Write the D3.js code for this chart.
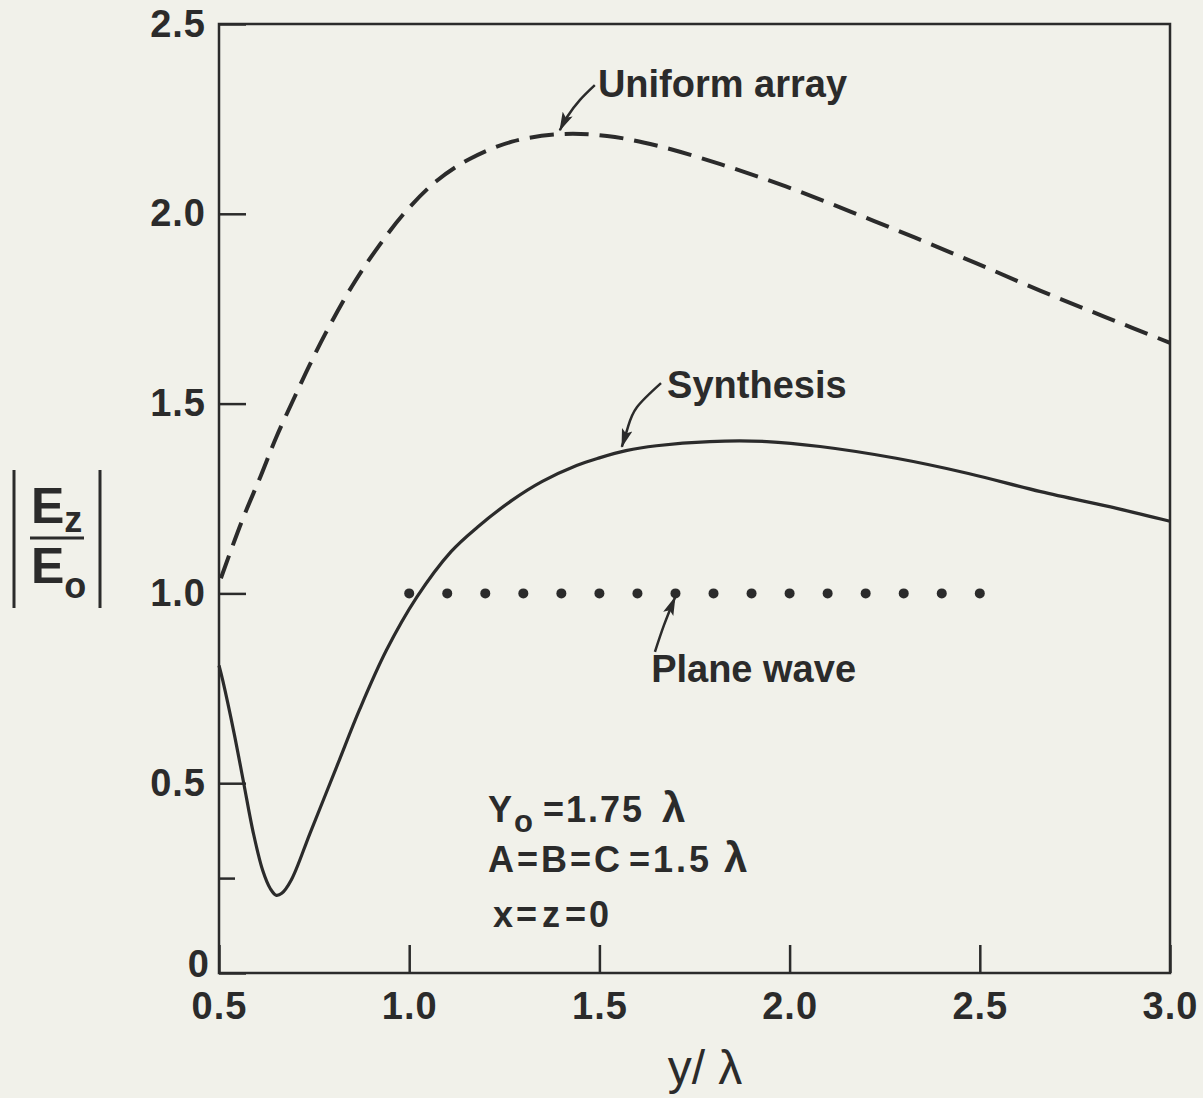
<!DOCTYPE html>
<html>
<head>
<meta charset="utf-8">
<script src="https://cdn.jsdelivr.net/npm/d3@7"></script>
<style>
html, body { margin: 0; padding: 0; background: #f1f1ea; }
svg { display: block; }
text { font-family: "Liberation Sans", Arial, sans-serif; fill: #2b2b2b; }
</style>
</head>
<body>
<div id="chart"></div>
<script>
// values
let uniformX = [0.505, 0.56, 0.61, 0.65, 0.70, 0.74, 0.78, 0.85, 0.92, 0.99, 1.07, 1.16, 1.27, 1.40, 1.52, 1.65, 1.82, 1.99, 2.16, 2.33, 2.49, 2.66, 2.83, 3.0]
let uniformY = [1.04, 1.19, 1.31, 1.41, 1.52, 1.605, 1.685, 1.81, 1.915, 2.005, 2.085, 2.145, 2.19, 2.21, 2.205, 2.18, 2.13, 2.072, 2.006, 1.937, 1.87, 1.797, 1.728, 1.66]

let synthX = [0.50, 0.51, 0.54, 0.565, 0.59, 0.615, 0.635, 0.65, 0.665, 0.69, 0.74, 0.81, 0.87, 0.94, 1.02, 1.11, 1.18, 1.27, 1.35, 1.44, 1.50, 1.57, 1.65, 1.79, 1.94, 2.08, 2.28, 2.47, 2.66, 2.86, 3.0]
let synthY = [0.81, 0.77, 0.63, 0.50, 0.37, 0.27, 0.222, 0.205, 0.21, 0.245, 0.37, 0.545, 0.695, 0.85, 0.99, 1.11, 1.175, 1.245, 1.295, 1.337, 1.357, 1.376, 1.389, 1.40, 1.40, 1.387, 1.356, 1.316, 1.268, 1.224, 1.19]

let planeX = [1.0, 1.1, 1.2, 1.3, 1.4, 1.5, 1.6, 1.7, 1.8, 1.9, 2.0, 2.1, 2.2, 2.3, 2.4, 2.5]
let planeY = [1.0, 1.0, 1.0, 1.0, 1.0, 1.0, 1.0, 1.0, 1.0, 1.0, 1.0, 1.0, 1.0, 1.0, 1.0, 1.0]

let xTicks = [0.5, 1.0, 1.5, 2.0, 2.5, 3.0]
let yTicks = [0, 0.5, 1.0, 1.5, 2.0, 2.5]
let yMinorTicks = [0.25]

let width = 1203
let height = 1098
let ink = "#2b2b2b"

let svg = d3.select("#chart")
    .append("svg")
    .attr("width", width)
    .attr("height", height)

let xScale = d3.scaleLinear().domain([0.5, 3.0]).range([219, 1170])
let yScale = d3.scaleLinear().domain([0, 2.5]).range([973, 24])

// arrow head for the callouts
svg.append("defs")
    .append("marker")
    .attr("id", "arrowHead")
    .attr("markerUnits", "userSpaceOnUse")
    .attr("markerWidth", 22)
    .attr("markerHeight", 12)
    .attr("refX", 18)
    .attr("refY", 5.5)
    .attr("orient", "auto")
    .append("path")
    .attr("d", "M0,0 L19,5.5 L0,11 L4,5.5 Z")
    .attr("fill", ink)

// frame
svg.append("rect")
    .attr("x", xScale(0.5))
    .attr("y", yScale(2.5))
    .attr("width", xScale(3.0) - xScale(0.5))
    .attr("height", yScale(0) - yScale(2.5))
    .attr("fill", "none")
    .attr("stroke", ink)
    .attr("stroke-width", 2.5)

function styleAxis(g){
    g.select(".domain").remove()
    g.selectAll("line").attr("stroke", ink).attr("stroke-width", 2.5)
    g.selectAll("text")
        .attr("fill", ink)
        .style("font-family", '"Liberation Sans", Arial, sans-serif')
        .style("font-size", "38px")
        .style("font-weight", "bold")
        .style("letter-spacing", "1px")
}

let yAxis = d3.axisLeft(yScale)
    .tickValues(yTicks)
    .tickSize(-27)
    .tickPadding(13)
    .tickFormat(d => d === 0 ? "0" : d3.format(".1f")(d))

svg.append("g")
    .attr("class", "yAxis")
    .attr("transform", `translate(${xScale(0.5)}, 0)`)
    .call(yAxis)
    .call(styleAxis)

// the zero label sits a little higher and to the right in the original
svg.select(".yAxis").selectAll(".tick")
    .filter(d => d === 0)
    .select("text")
    .attr("x", -9)
    .attr("dy", "0.1em")

svg.append("g")
    .attr("class", "yMinor")
    .attr("transform", `translate(${xScale(0.5)}, 0)`)
    .call(d3.axisLeft(yScale).tickValues(yMinorTicks).tickSize(-16).tickFormat(""))
    .call(styleAxis)

let xAxis = d3.axisBottom(xScale)
    .tickValues(xTicks)
    .tickSize(-28)
    .tickPadding(19)
    .tickFormat(d3.format(".1f"))

svg.append("g")
    .attr("class", "xAxis")
    .attr("transform", `translate(0, ${yScale(0)})`)
    .call(xAxis)
    .call(styleAxis)

// axis titles
svg.append("text")
    .attr("x", 705)
    .attr("y", 1084)
    .attr("text-anchor", "middle")
    .style("font-size", "48px")
    .text("y/ λ")

let yLabel = svg.append("g").attr("class", "yLabel")
yLabel.append("line").attr("x1", 14).attr("x2", 14).attr("y1", 470).attr("y2", 608)
    .attr("stroke", ink).attr("stroke-width", 3)
yLabel.append("line").attr("x1", 100).attr("x2", 100).attr("y1", 470).attr("y2", 608)
    .attr("stroke", ink).attr("stroke-width", 3)
yLabel.append("line").attr("x1", 30).attr("x2", 84).attr("y1", 538).attr("y2", 538)
    .attr("stroke", ink).attr("stroke-width", 3)
let topE = yLabel.append("text").attr("x", 31).attr("y", 523).style("font-size", "50px").style("font-weight", "bold")
topE.append("tspan").text("E")
topE.append("tspan").attr("dy", 9).style("font-size", "36px").text("z")
let botE = yLabel.append("text").attr("x", 31).attr("y", 583).style("font-size", "50px").style("font-weight", "bold")
botE.append("tspan").text("E")
botE.append("tspan").attr("dy", 15).style("font-size", "36px").text("o")

// curves
let uniformData = uniformX.map((x, i) => ({x: x, y: uniformY[i]}))
let synthData = synthX.map((x, i) => ({x: x, y: synthY[i]}))
let planeData = planeX.map((x, i) => ({x: x, y: planeY[i]}))

let line = d3.line()
    .x(d => xScale(d.x))
    .y(d => yScale(d.y))
    .curve(d3.curveCatmullRom.alpha(0.5))

svg.append("path")
    .datum(uniformData)
    .attr("d", line)
    .attr("fill", "none")
    .attr("stroke", ink)
    .attr("stroke-width", 4)
    .attr("stroke-dasharray", "24,11")

svg.append("path")
    .datum(synthData)
    .attr("d", line)
    .attr("fill", "none")
    .attr("stroke", ink)
    .attr("stroke-width", 3.2)

svg.selectAll("circle.plane")
    .data(planeData)
    .enter()
    .append("circle")
    .attr("class", "plane")
    .attr("cx", d => xScale(d.x))
    .attr("cy", d => yScale(d.y))
    .attr("r", 5)
    .attr("fill", ink)

// callouts
let arrowLine = d3.line()
    .x(d => xScale(d[0]))
    .y(d => yScale(d[1]))
    .curve(d3.curveNatural)

let callouts = [
    {label: "Uniform array", at: [1.496, 2.308], arrow: [[1.488, 2.339], [1.449, 2.300], [1.415, 2.255], [1.396, 2.220]]},
    {label: "Synthesis", at: [1.678, 1.515], arrow: [[1.662, 1.554], [1.599, 1.491], [1.575, 1.438], [1.559, 1.386]]},
    {label: "Plane wave", at: [1.636, 0.767], arrow: [[1.646, 0.846], [1.670, 0.917], [1.699, 0.990]]}
]

callouts.forEach(c => {
    svg.append("path")
        .attr("d", arrowLine(c.arrow))
        .attr("fill", "none")
        .attr("stroke", ink)
        .attr("stroke-width", 2.5)
        .attr("marker-end", "url(#arrowHead)")
    svg.append("text")
        .attr("x", xScale(c.at[0]))
        .attr("y", yScale(c.at[1]))
        .style("font-size", "38px")
        .style("font-weight", "bold")
        .text(c.label)
})

// parameter block
let paramX = xScale(1.207)
let p1 = svg.append("text").attr("x", paramX).attr("y", yScale(0.398))
    .style("font-size", "36px").style("font-weight", "bold").style("letter-spacing", "2px")
p1.append("tspan").text("Y")
p1.append("tspan").attr("dy", 10).style("font-size", "31px").text("o")
p1.append("tspan").attr("dy", -10).attr("dx", 8).text("=1.75")
p1.append("tspan").attr("dx", 18).style("font-size", "42px").text("λ")

let p2 = svg.append("text").attr("x", paramX).attr("y", yScale(0.266))
    .style("font-size", "36px").style("font-weight", "bold").style("letter-spacing", "3px")
p2.append("tspan").text("A=B=C")
p2.append("tspan").attr("dx", 6).text("=1.5")
p2.append("tspan").attr("dx", 12).style("font-size", "42px").text("λ")

let p3 = svg.append("text").attr("x", paramX + 5).attr("y", yScale(0.121))
    .style("font-size", "36px").style("font-weight", "bold").style("letter-spacing", "3px")
p3.append("tspan").text("x=")
p3.append("tspan").attr("dx", 2).text("z")
p3.append("tspan").attr("dx", 2).text("=0")
</script>
</body>
</html>
